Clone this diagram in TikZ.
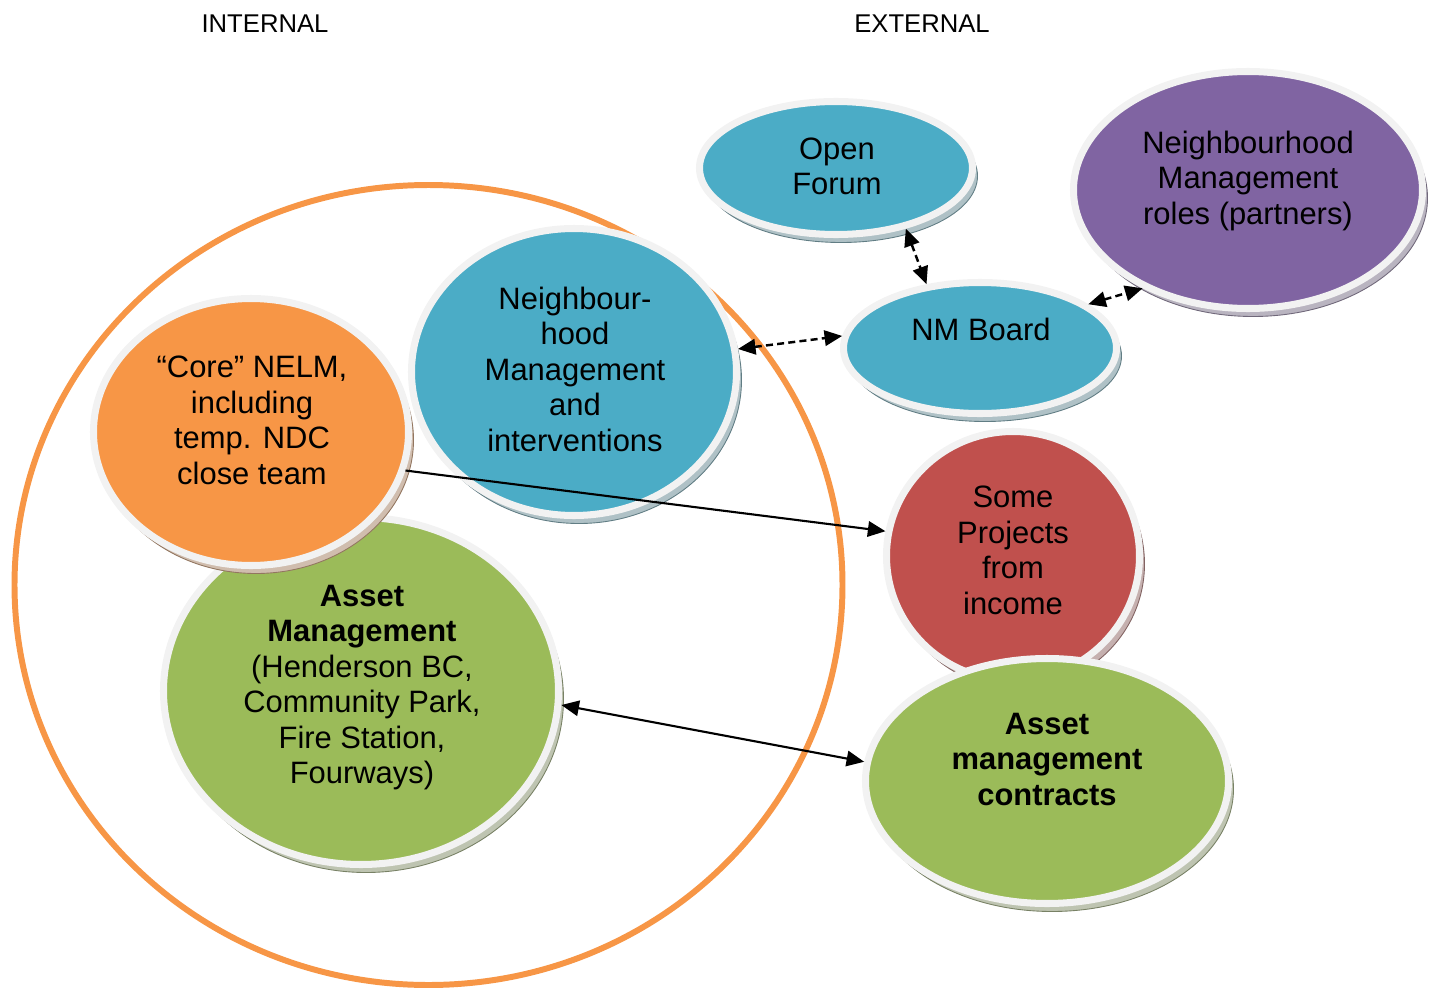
\documentclass[tikz,border=0pt]{standalone}
\usepackage{fontspec}
\setmainfont{Liberation Sans}
\usetikzlibrary{shapes.geometric,shadows,arrows.meta}

\definecolor{nmteal}{HTML}{4BACC6}
\definecolor{nmpurple}{HTML}{8064A2}
\definecolor{nmorange}{HTML}{F79646}
\definecolor{nmred}{HTML}{C0504D}
\definecolor{nmgreen}{HTML}{9BBB59}
\definecolor{rim}{HTML}{F2F2F2}

\tikzset{
  bubble/.style={ellipse, fill=#1, draw=rim, line width=2pt, inner sep=0pt,
    drop shadow={shadow xshift=0.05cm, shadow yshift=-0.08cm, opacity=1,
      fill=#1!35!gray!55!white, draw=#1!40!black!70!white, line width=0.25pt}},
  bubbletext/.style={align=center, font=\fontsize{8.8}{10.1}\selectfont},
  heading/.style={font=\fontsize{7.3}{8.5}\selectfont},
  head/.style={Triangle[length=5pt,width=4.4pt]},
  oneway/.style={line width=0.6pt, -{Triangle[length=5pt,width=4.4pt]}},
  twoway/.style={line width=0.6pt, {Triangle[length=5pt,width=4.4pt]}-{Triangle[length=5pt,width=4.4pt]}},
  dashway/.style={twoway, line width=0.7pt, dash pattern=on 2pt off 1.2pt}
}

\begin{document}
\begin{tikzpicture}
   \useasboundingbox (0,0) rectangle (14.34,-9.9);

   % Headings
   \node[heading] (internal) at (2.65,-0.24) {INTERNAL};
   \node[heading] (external) at (9.22,-0.24) {EXTERNAL};

   % Internal boundary
   \draw[nmorange, line width=1.7pt] (4.285,-5.85) ellipse [x radius=4.14, y radius=4.0];

   % Draw bubbles (back to front)
   \node[bubble=nmteal, minimum width=2.73cm, minimum height=1.33cm] (forum) at (8.36,-1.68) {};
   \node[bubble=nmpurple, minimum width=3.49cm, minimum height=2.37cm] (roles) at (12.48,-1.90) {};
   \node[bubble=nmteal, minimum width=2.73cm, minimum height=1.31cm] (board) at (9.80,-3.48) {};
   \node[bubble=nmteal, minimum width=3.25cm, minimum height=2.87cm] (nmi) at (5.74,-3.72) {};
   \node[bubble=nmgreen, minimum width=3.95cm, minimum height=3.47cm] (asset) at (3.61,-6.91) {};
   \node[bubble=nmorange, minimum width=3.15cm, minimum height=2.67cm] (core) at (2.51,-4.32) {};
   \node[bubble=nmred, minimum width=2.53cm, minimum height=2.49cm] (projects) at (10.13,-5.56) {};
   \node[bubble=nmgreen, minimum width=3.63cm, minimum height=2.45cm] (contracts) at (10.47,-7.81) {};

   % Bubble texts
   \node[bubbletext] (forumtext) at (8.37,-1.665) {Open\\Forum};
   \node[bubbletext] (rolestext) at (12.48,-1.81) {Neighbourhood\\Management\\roles (partners)};
   \node[bubbletext] (boardtext) at (9.81,-3.29) {NM Board};
   \node[bubbletext] (nmitext) at (5.75,-3.69) {Neighbour-\\hood\\Management\\and\\interventions};
   \node[bubbletext] (coretext) at (2.52,-4.205) {“Core” NELM,\\including\\temp. NDC\\close team};
   \node[bubbletext] (projectstext) at (10.13,-5.505) {Some\\Projects\\from\\income};
   \node[bubbletext] (assettext) at (3.62,-6.875) {\textbf{Asset}\\\textbf{Management}\\(Henderson BC,\\Community Park,\\Fire Station,\\Fourways)};
   \node[bubbletext, font=\fontsize{8.8}{10.1}\selectfont\bfseries] (contractstext) at (10.47,-7.595) {Asset\\management\\contracts};

   % Links
   \draw[dashway] (forum.-41) -- (board.130);
   \draw[dashway] (board.22) -- (roles.-137);
   \draw[dashway] (nmi.8) -- (board.175);
   \draw[oneway] (core.-14) -- (projects.169);
   \draw[twoway] (asset.-4) -- (contracts.174);
\end{tikzpicture}
\end{document}
